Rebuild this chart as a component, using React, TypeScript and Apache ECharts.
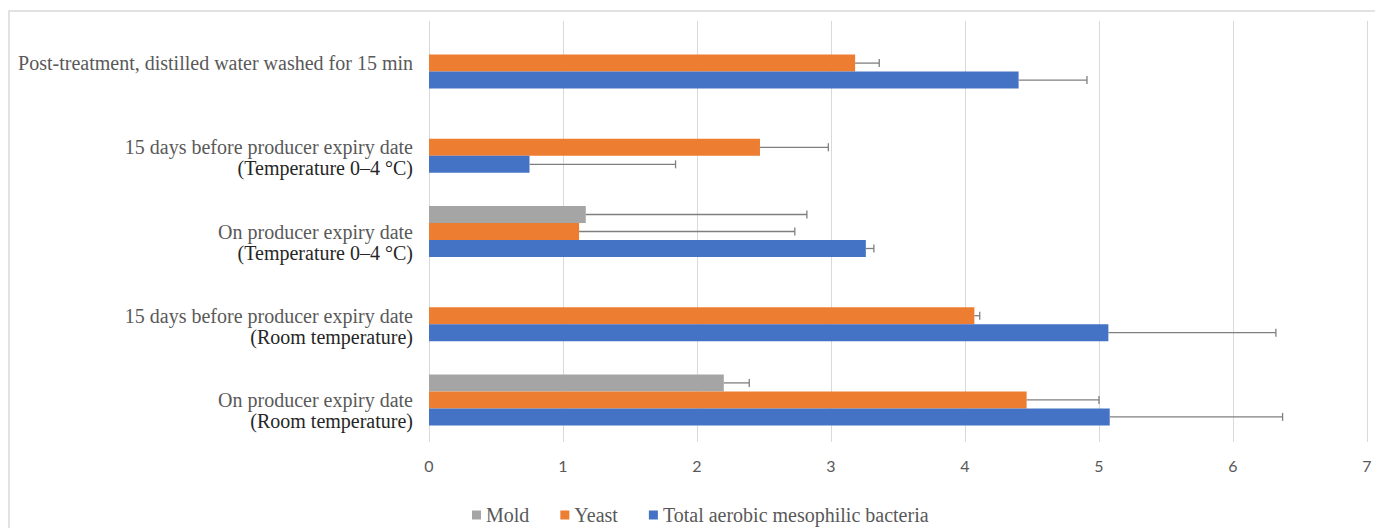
import React, { useEffect, useRef } from "react";
import * as echarts from "echarts";

const categories = [
  "On producer expiry date\n(Room temperature)",
  "15 days before producer expiry date\n(Room temperature)",
  "On producer expiry date\n(Temperature 0–4 °C)",
  "15 days before producer expiry date\n(Temperature 0–4 °C)",
  "Post-treatment, distilled water washed for 15 min",
];
const seriesNames = ["Mold", "Yeast", "Total aerobic mesophilic bacteria"];
const moldValues = [2.2, null, 1.17, null, null];
const moldErrors = [0.19, null, 1.65, null, null];
const yeastValues = [4.46, 4.07, 1.12, 2.47, 3.18];
const yeastErrors = [0.54, 0.04, 1.61, 0.51, 0.18];
const bacteriaValues = [5.08, 5.07, 3.26, 0.75, 4.4];
const bacteriaErrors = [1.29, 1.25, 0.06, 1.09, 0.51];
const xMin = 0;
const xMax = 7;
const xInterval = 1;

const colors = ["#A5A5A5", "#ED7D31", "#4472C4"];
const SERIF = "'Liberation Serif', 'Times New Roman', serif";
const BAR_W = 17;

function errorSeries(values: (number | null)[], errors: (number | null)[], offset: number) {
  const data: number[][] = [];
  values.forEach((v, i) => {
    if (v != null && errors[i] != null) data.push([v, errors[i] as number, i]);
  });
  return {
    type: "custom",
    z: 5,
    silent: true,
    encode: { x: 0, y: 2 },
    data,
    renderItem: (params: any, api: any) => {
      const v = api.value(0);
      const e = api.value(1);
      const idx = api.value(2);
      const s = api.coord([v, idx]);
      const t = api.coord([v + e, idx]);
      const y = s[1] + offset;
      const style = { stroke: "#7f7f7f", lineWidth: 1.3 };
      return {
        type: "group",
        children: [
          { type: "line", shape: { x1: s[0], y1: y, x2: t[0], y2: y }, style },
          { type: "line", shape: { x1: t[0], y1: y - 4, x2: t[0], y2: y + 4 }, style },
        ],
      };
    },
  };
}

export default function App() {
  const ref = useRef<HTMLDivElement>(null);
  useEffect(() => {
    if (!ref.current) return;
    const chart = echarts.init(ref.current, undefined, { renderer: "svg" });
    const barBase = {
      type: "bar",
      barWidth: BAR_W,
      barGap: "0%",
      z: 2,
    };
    chart.setOption({
      animation: false,
      backgroundColor: "#ffffff",
      color: colors,
      graphic: [
        {
          type: "rect",
          shape: { x: 9, y: 11, width: 1400, height: 600 },
          style: { fill: "none", stroke: "#d9d9d9", lineWidth: 1.5 },
          silent: true,
          z: -1,
        },
      ],
      grid: { left: 429, right: 8, top: 21, bottom: 86, containLabel: false },
      legend: {
        data: seriesNames,
        left: 472,
        top: 505,
        padding: 0,
        icon: "rect",
        itemWidth: 9,
        itemHeight: 9,
        itemGap: 31,
        textStyle: { fontFamily: SERIF, fontSize: 20, lineHeight: 20, color: "#595959" },
      },
      xAxis: {
        type: "value",
        min: xMin,
        max: xMax,
        interval: xInterval,
        axisLine: { show: false },
        axisTick: { show: false },
        splitLine: { show: true, lineStyle: { color: "#d9d9d9", width: 1 } },
        axisLabel: {
          margin: 15,
          fontFamily: "Lato, 'Open Sans', sans-serif",
          fontSize: 16,
          color: "#595959",
        },
      },
      yAxis: {
        type: "category",
        data: categories,
        axisLine: { show: false },
        axisTick: { show: false },
        splitLine: { show: false },
        axisLabel: {
          margin: 16,
          align: "right",
          formatter: (v: string) => {
            const parts = v.split("\n");
            if (parts.length === 1) return `{a|${v}}`;
            return `{s| }\n{a|${parts[0]}}\n{b|${parts[1]}}`;
          },
          rich: {
            s: { fontFamily: SERIF, fontSize: 20, lineHeight: 21 },
            a: { fontFamily: SERIF, fontSize: 20, lineHeight: 21, color: "#595959" },
            b: { fontFamily: SERIF, fontSize: 20, lineHeight: 21, color: "#262626" },
          },
        },
      },
      series: [
        { ...barBase, name: seriesNames[0], data: moldValues },
        { ...barBase, name: seriesNames[1], data: yeastValues },
        { ...barBase, name: seriesNames[2], data: bacteriaValues },
        errorSeries(moldValues, moldErrors, -BAR_W),
        errorSeries(yeastValues, yeastErrors, 0),
        errorSeries(bacteriaValues, bacteriaErrors, BAR_W),
      ],
    });
    return () => chart.dispose();
  }, []);
  return (
    <div
      ref={ref}
      style={{ position: "absolute", left: 0, top: 0, width: 1375, height: 528 }}
    />
  );
}
